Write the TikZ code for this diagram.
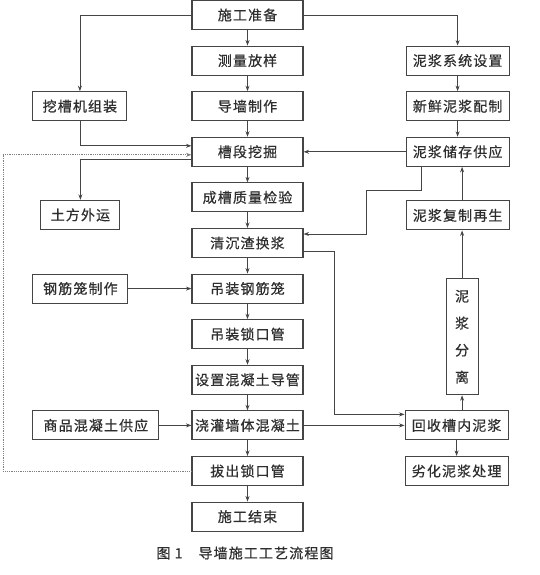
\documentclass[tikz,border=0pt]{standalone}
\usepackage{fontspec}
\newfontfamily\cjk[LetterSpace=8,FakeBold=0.6]{Noto Sans CJK SC}
\usetikzlibrary{positioning, arrows.meta}
\definecolor{linegray}{HTML}{454545}
\definecolor{inkgray}{HTML}{2E2E2E}
\tikzstyle{box} = [
rectangle,
minimum width=111pt,
minimum height=29pt,
inner sep=0pt,
line width=1.1pt,
draw=linegray,
text=inkgray,
font=\cjk\fontsize{14}{16}\selectfont
]
\tikzstyle{sidebox} = [
box,
minimum width=103pt
]
\tikzstyle{tallbox} = [
box,
minimum width=32pt,
minimum height=116pt,
align=center,
font=\cjk\fontsize{14}{27}\selectfont
]
\tikzstyle{arrow}=[->,>={Stealth[length=5.5pt,width=4pt]},line width=0.8pt,draw=linegray]
\tikzstyle{loopback}=[arrow,densely dotted,draw=gray]

\begin{document}
\begin{tikzpicture}[x=1pt,y=-1pt,node distance=45.6pt]
        \useasboundingbox (0,0) rectangle (540,575);

        % main column
        \node(prep)[box] at (247.5,15)
        {施工准备};
        \node(survey)[box, below of=prep]
        {测量放样};
        \node(guide)[box, below of=survey]
        {导墙制作};
        \node(dig)[box, below of=guide]
        {槽段挖掘};
        \node(check)[box, below of=dig]
        {成槽质量检验};
        \node(clean)[box, below of=check]
        {清沉渣换浆};
        \node(hoist)[box, below of=clean]
        {吊装钢筋笼};
        \node(lockpipe)[box, below of=hoist]
        {吊装锁口管};
        \node(tremie)[box, below of=lockpipe]
        {设置混凝土导管};
        \node(pour)[box, below of=tremie]
        {浇灌墙体混凝土};
        \node(pull)[box, below of=pour]
        {拔出锁口管};
        \node(finish)[box, below of=pull]
        {施工结束};

        % left column
        \node(assemble)[box, minimum width=94pt, left=64pt of guide]
        {挖槽机组装};
        \node(soil)[box, minimum width=79pt, left=71pt of check, yshift=-17.5pt]
        {土方外运};
        \node(cage)[box, minimum width=95pt, left=63pt of hoist]
        {钢筋笼制作};
        \node(concrete)[box, minimum width=126pt, left=32pt of pour]
        {商品混凝土供应};

        % right column
        \node(mudsys)[sidebox, right=102pt of survey]
        {泥浆系统设置};
        \node(fresh)[sidebox, right=102pt of guide]
        {新鲜泥浆配制};
        \node(store)[sidebox, right=102pt of dig]
        {泥浆储存供应};
        \node(regen)[sidebox, right=102pt of check, yshift=-18pt]
        {泥浆复制再生};
        \node(sep)[tallbox, right=142pt of lockpipe, yshift=-2.5pt]
        {泥\\浆\\分\\离};
        \node(recycle)[sidebox, right=101pt of pour]
        {回收槽内泥浆};
        \node(waste)[sidebox, below of=recycle]
        {劣化泥浆处理};

        \node(caption)[text=inkgray, font=\cjk\fontsize{14}{17}\selectfont] at (245,553)
        {图 1\hspace{16pt}导墙施工工艺流程图};

        \draw[arrow] (prep)--(survey);
        \draw[arrow] (survey)--(guide);
        \draw[arrow] (guide)--(dig);
        \draw[arrow] (dig)--(check);
        \draw[arrow] (check)--(clean);
        \draw[arrow] (clean)--(hoist);
        \draw[arrow] (hoist)--(lockpipe);
        \draw[arrow] (lockpipe)--(tremie);
        \draw[arrow] (tremie)--(pour);
        \draw[arrow] (pour)--(pull);
        \draw[arrow] (pull)--(finish);

        \draw[arrow] (prep.west) -| (assemble.north);
        \draw[arrow] (prep.east) -| (mudsys.north);
        \draw[arrow] (assemble.south) |- ([yshift=6pt]dig.west);
        \draw[arrow] ([yshift=-8pt]dig.west) -| (soil.north);
        \draw[loopback] (pull.west) -- ++(-188,0) |- ([yshift=-3pt]dig.west);

        \draw[arrow] (mudsys)--(fresh);
        \draw[arrow] (fresh)--(store);
        \draw[arrow] (store)--(dig);
        \draw[arrow] ([xshift=16pt]store.south west) -- ++(0,24) -- ++(-55,0) |- ([yshift=9pt]clean.east);
        \draw[arrow] ([yshift=-8pt]clean.east) -- ++(31,0) |- ([yshift=11pt]recycle.west);

        \draw[arrow] (cage)--(hoist);
        \draw[arrow] (concrete)--(pour);
        \draw[arrow] (pour)--(recycle);
        \draw[arrow] (sep.south |- recycle.north) -- (sep.south);
        \draw[arrow] (sep.north) -- (sep.north |- regen.south);
        \draw[arrow] (sep.north |- regen.north) -- (sep.north |- store.south);
        \draw[arrow] (recycle)--(waste);

        \end{tikzpicture}
\end{document}
